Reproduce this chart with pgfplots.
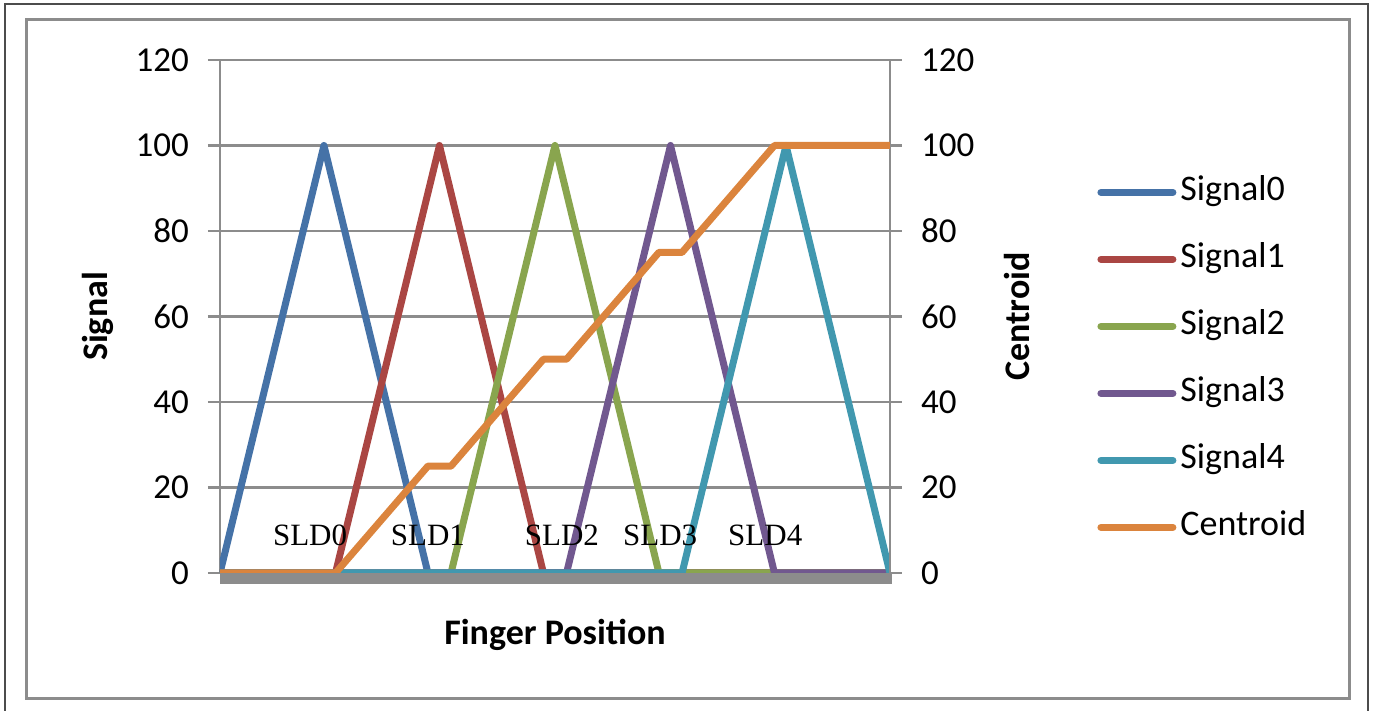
\documentclass[border=0pt]{standalone}
\usepackage{fontspec}
\setmainfont{Carlito}
\newfontfamily\sldfont{Liberation Serif}
\usepackage{pgfplots}
\pgfplotsset{compat=1.18}
\definecolor{cA}{HTML}{4572A7}
\definecolor{cB}{HTML}{AA4643}
\definecolor{cC}{HTML}{89A54E}
\definecolor{cD}{HTML}{71588F}
\definecolor{cE}{HTML}{4198AF}
\definecolor{cF}{HTML}{DB843D}
\definecolor{gridgray}{HTML}{8C8C8C}
\pgfplotsset{
  common/.style={
    width=335pt, height=256.5pt, scale only axis,
    at={(110pt,69pt)}, anchor=south west,
    xmin=0, xmax=58, ymin=0, ymax=120,
    ytick={0,20,...,120}, xtick=\empty,
    axis x line=none,
    tick align=outside, major tick length=6pt,
    axis line style={-, gridgray, line width=1.35pt},
    ytick style={gridgray, line width=1.35pt},
    /pgf/number format/assume math mode=true,
    every axis plot/.append style={line width=3.5pt, line join=round},
  }
}
\begin{document}
\begin{tikzpicture}
\useasboundingbox (0,0) rectangle (686.5pt,355.5pt);
\draw[line width=0.8pt, black!70] (2.5pt,-2pt) -- (2.5pt,353.5pt) -- (684pt,353.5pt) -- (684pt,-2pt);
\draw[line width=1.5pt, gridgray] (13pt,6pt) rectangle (674.5pt,345.5pt);

\begin{axis}[common, name=main,
  axis y line*=left,
  ymajorgrids, grid style={gridgray, line width=1.35pt},
  yticklabel style={font=\fontsize{17.5}{20}\selectfont, xshift=-6pt},
  ylabel={Signal},
  ylabel style={at={(axis description cs:-0.182,0.5)}, anchor=center, font=\fontsize{18}{20}\selectfont\bfseries},
]
\addplot[cA] coordinates {(0,0) (9,100) (18,0) (58,0)};
\addplot[cB] coordinates {(0,0) (10,0) (19,100) (28,0) (58,0)};
\addplot[cC] coordinates {(0,0) (20,0) (29,100) (38,0) (58,0)};
\addplot[cD] coordinates {(0,0) (30,0) (39,100) (48,0) (58,0)};
\addplot[cE] coordinates {(0,0) (40,0) (49,100) (58,0)};
\end{axis}

\begin{axis}[common,
  axis y line*=right,
  yticklabel style={font=\fontsize{17.5}{20}\selectfont, xshift=6pt},
  ylabel={Centroid},
  ylabel style={at={(axis description cs:1.189,0.5)}, anchor=center, rotate=0, font=\fontsize{18}{20}\selectfont\bfseries},
  legend image code/.code={\draw[#1, line cap=round] (1.75pt,0pt) -- (37.75pt,0pt);},
  legend style={at={(axis description cs:1.309,0.7739)}, anchor=north west,
    draw=none, fill=none, inner sep=0pt,
    font=\fontsize{18}{20}\selectfont,
    nodes={inner sep=0pt, text height=12pt, text depth=4pt},
    row sep=17.5pt,
    /tikz/every odd column/.append style={column sep=2pt}},
  legend cell align=left,
  legend entries={Signal0,Signal1,Signal2,Signal3,Signal4,Centroid},
]
\addlegendimage{cA, line width=3.5pt}
\addlegendimage{cB, line width=3.5pt}
\addlegendimage{cC, line width=3.5pt}
\addlegendimage{cD, line width=3.5pt}
\addlegendimage{cE, line width=3.5pt}
\addplot[cF] coordinates {(0,0) (10,0) (18,25) (20,25) (28,50) (30,50) (38,75) (40,75) (48,100) (58,100)};
\node[font=\sldfont\fontsize{15.5}{18}\selectfont] at (axis cs:7.8,8.7) {SLD0};
\node[font=\sldfont\fontsize{15.5}{18}\selectfont] at (axis cs:18.0,8.7) {SLD1};
\node[font=\sldfont\fontsize{15.5}{18}\selectfont] at (axis cs:29.6,8.7) {SLD2};
\node[font=\sldfont\fontsize{15.5}{18}\selectfont] at (axis cs:38.1,8.7) {SLD3};
\node[font=\sldfont\fontsize{15.5}{18}\selectfont] at (axis cs:47.2,8.7) {SLD4};
\end{axis}

\fill[gridgray] (main.south west) rectangle ([yshift=-5.5pt,xshift=1pt]main.south east);
\node[font=\fontsize{18}{20}\selectfont\bfseries] at (277.5pt,38pt) {Finger Position};
\end{tikzpicture}
\end{document}
